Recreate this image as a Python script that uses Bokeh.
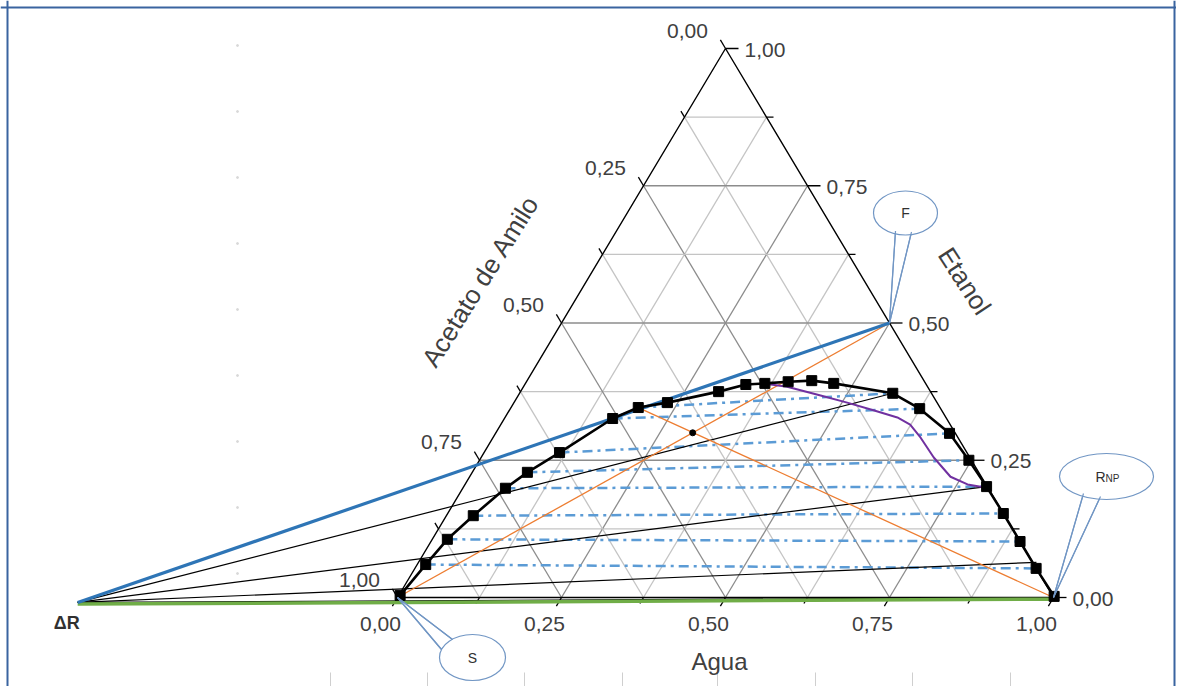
import numpy as np
from bokeh.plotting import figure
from bokeh.models import Range1d, Span
from bokeh.core.properties import value
from bokeh.embed import file_html
from bokeh.resources import INLINE

# ---------------- data (mass fractions; Acetato de Amilo = 1 - Agua - Etanol) ----------------
binodal_agua = [0.002, 0.013, 0.023, 0.041, 0.065, 0.084, 0.115, 0.165, 0.194, 0.234, 0.302, 0.337,
                0.365, 0.399, 0.434, 0.470, 0.569, 0.624, 0.692, 0.746, 0.797, 0.847, 0.898, 0.947, 1.000]
binodal_etanol = [0.004, 0.060, 0.106, 0.149, 0.199, 0.228, 0.264, 0.326, 0.346, 0.355, 0.375, 0.388,
                  0.390, 0.393, 0.395, 0.390, 0.372, 0.344, 0.299, 0.250, 0.202, 0.153, 0.102, 0.053, 0.002]

tie_ext_agua = [0.013, 0.023, 0.041, 0.065, 0.084, 0.115, 0.165, 0.194]
tie_ext_etanol = [0.060, 0.106, 0.149, 0.199, 0.228, 0.264, 0.326, 0.346]
tie_raf_agua = [0.947, 0.898, 0.847, 0.797, 0.746, 0.692, 0.624, 0.569]
tie_raf_etanol = [0.053, 0.102, 0.153, 0.202, 0.250, 0.299, 0.344, 0.372]

conj_agua = [0.363, 0.402, 0.461, 0.508, 0.555, 0.598, 0.624, 0.652, 0.690, 0.733, 0.766, 0.798]
conj_etanol = [0.390, 0.384, 0.368, 0.355, 0.341, 0.328, 0.315, 0.291, 0.255, 0.220, 0.206, 0.200]

fan_end_agua = [0.569, 0.797, 0.942]
fan_end_etanol = [0.372, 0.202, 0.064]

F_pt = (0.50, 0.50)
S_pt = (0.00, 0.00)
RNP_pt = (1.00, 0.00)
M_pt = (0.30, 0.30)
E1_pt = (0.194, 0.346)
DR_pt = (-0.483, -0.009)

tick_values = [0.0, 0.25, 0.5, 0.75, 1.0]
tick_labels = ["0,00", "0,25", "0,50", "0,75", "1,00"]

# ---------------- geometry helpers ----------------
PXX, PXY = 656.0, 549.0          # screen pixels per unit
W, H = 1176, 686
x0 = -397.0 / PXX
x1 = x0 + W / PXX
y1 = 597.0 / PXY
y0 = y1 - H / PXY


def T(a, e):
    a = np.asarray(a, dtype=float)
    e = np.asarray(e, dtype=float)
    return a + e / 2.0, e


def off(pt, dxp, dyp):
    X, Y = T(*pt)
    return float(X + dxp / PXX), float(Y - dyp / PXY)


def px(xp, yp):
    return x0 + xp / PXX, y1 - yp / PXY


FONT = value("Liberation Sans")
TXT = "#404040"

p = figure(width=W, height=H, x_range=Range1d(x0, x1), y_range=Range1d(y0, y1),
           output_backend="svg", toolbar_location=None, min_border=0,
           x_axis_location=None, y_axis_location=None)
p.grid.grid_line_color = None
p.outline_line_color = None
p.background_fill_color = "white"
p.border_fill_color = "white"

# faint page decorations
fx, _ = px(237, 0)
ys_dots = [px(0, yy)[1] for yy in range(45, 620, 66)]
p.scatter([fx] * len(ys_dots), ys_dots, size=2, color="#d8d8d8")
for xr in [330, 427, 524, 622, 717, 815, 912, 1010]:
    a = px(xr, 672)
    b = px(xr, 688)
    p.segment(a[0], a[1], b[0], b[1], line_color="#cfcfcf", line_width=1)

# ---------------- grid ----------------
for k in range(1, 8):
    v = k / 8.0
    col = "#8c8c8c" if k % 2 == 0 else "#c4c4c4"
    xs, ys = [], []
    for (pa, pb) in [((0, v), (1 - v, v)), ((v, 0), (v, 1 - v)), ((1 - v, 0), (0, 1 - v))]:
        A = T(*pa)
        B = T(*pb)
        xs.append([float(A[0]), float(B[0])])
        ys.append([float(A[1]), float(B[1])])
    p.multi_line(xs, ys, line_color=col, line_width=1.3)

# ---------------- triangle & ticks ----------------
tri = T([0, 1, 0, 0], [0, 0, 1, 0])
p.line(tri[0], tri[1], line_color="black", line_width=1.4)

ux, uy = 328 / 640.0, 549 / 640.0
for k in range(9):
    v = k / 8.0
    L = 10 if k % 2 == 0 else 7
    A = T(v, 0)
    p.segment(float(A[0]), float(A[1]), float(A[0] - ux * L / PXX), float(A[1] - uy * L / PXY),
              line_color="black", line_width=1.3)
    A = T(1 - v, v)
    Lr = 13 if k % 2 == 0 else 7
    p.segment(float(A[0]), float(A[1]), float(A[0] + Lr / PXX), float(A[1]),
              line_color="black", line_width=1.3)
    A = T(0, v)
    p.segment(float(A[0]), float(A[1]), float(A[0] - ux * L / PXX), float(A[1] + uy * L / PXY),
              line_color="black", line_width=1.3)

# tick labels
bx, by = T(tick_values, [0] * 5)
p.text(bx, by, text=tick_labels, text_font=FONT, text_font_size="21px", text_color=TXT,
       text_align="center", text_baseline="middle", x_offset=-17, y_offset=26)
rx, ry = T([1 - t for t in tick_values], tick_values)
p.text(rx, ry, text=tick_labels, text_font=FONT, text_font_size="21px", text_color=TXT,
       text_align="left", text_baseline="middle", x_offset=19, y_offset=1)
lx, ly = T([0] * 5, [1 - t for t in tick_values])
p.text(lx, ly, text=tick_labels, text_font=FONT, text_font_size="21px", text_color=TXT,
       text_align="center", text_baseline="middle", x_offset=-38, y_offset=-18)

# axis titles
ax_, ay_ = off((0, 0.5), -81, -42)
p.text([ax_], [ay_], text=["Acetato de Amilo"], angle=np.deg2rad(58), text_font=FONT,
       text_font_size="26px", text_color=TXT, text_align="center", text_baseline="middle")
ex_, ey_ = off((0.5, 0.5), 75, -42)
p.text([ex_], [ey_], text=["Etanol"], angle=np.deg2rad(-57), text_font=FONT,
       text_font_size="26px", text_color=TXT, text_align="center", text_baseline="middle")
gx_, gy_ = off((0.5, 0), -6, 64)
p.text([gx_], [gy_], text=["Agua"], text_font=FONT, text_font_size="24px", text_color=TXT,
       text_align="center", text_baseline="middle")

# ---------------- construction lines ----------------
tx0, ty0 = T(tie_ext_agua, tie_ext_etanol)
tx1, ty1 = T(tie_raf_agua, tie_raf_etanol)
p.segment(tx0, ty0, tx1, ty1, line_color="#5B9BD5", line_width=2.5, line_dash="10 5 3 5")

drx, dry = T(*DR_pt)
fx1, fy1 = T(fan_end_agua, fan_end_etanol)
p.segment([float(drx)] * 3, [float(dry)] * 3, fx1, fy1, line_color="black", line_width=1.2)

sfx, sfy = T([S_pt[0], F_pt[0]], [S_pt[1], F_pt[1]])
p.line(sfx, sfy, line_color="#ED7D31", line_width=1.3)
erx, ery = T([E1_pt[0], RNP_pt[0]], [E1_pt[1], RNP_pt[1]])
p.line(erx, ery, line_color="#ED7D31", line_width=1.3)

gx, gy = T([DR_pt[0], RNP_pt[0]], [DR_pt[1], RNP_pt[1]])
p.line(gx, gy, line_color="black", line_width=1.2)
p.line(gx, [float(v) - 0.003 for v in gy], line_color="#70AD47", line_width=3.5)

bfx, bfy = T([DR_pt[0], F_pt[0]], [DR_pt[1], F_pt[1]])
p.line(bfx, bfy, line_color="#2E75B6", line_width=3.2)

cx, cy = T(conj_agua, conj_etanol)
p.line(cx, cy, line_color="#7030A0", line_width=2)

bnx, bny = T(binodal_agua, binodal_etanol)
p.line(bnx, bny, line_color="black", line_width=2.6)
p.scatter(bnx, bny, marker="square", size=10, color="black")

mx, my = T(*M_pt)
p.scatter([float(mx)], [float(my)], size=6, color="black")

dlx, dly = off(DR_pt, -11, 21)
p.text([dlx], [dly], text=["\u0394R"], text_font=FONT, text_font_size="18px", text_color="#303030",
       text_font_style="bold", text_align="center", text_baseline="middle")

# ---------------- callouts ----------------
CAL = "#7196C4"


def callout(target, cdx, cdy, w, h, b1, b2, label, sub=None):
    tx, ty = off(target, 0, 0)
    bx1, by1 = off(target, *b1)
    bx2, by2 = off(target, *b2)
    p.patch([bx1, tx, bx2], [by1, ty, by2], fill_color="white", line_color=CAL, line_width=1.2)
    cx_, cy_ = off(target, cdx, cdy)
    p.ellipse([cx_], [cy_], width=w, height=h, width_units="screen", height_units="screen",
              fill_color="white", line_color=CAL, line_width=1.2)
    if sub is None:
        p.text([cx_], [cy_], text=[label], text_font=FONT, text_font_size="14px", text_color="#303030",
               text_align="center", text_baseline="middle")
    else:
        p.text([cx_], [cy_], text=[label], text_font=FONT, text_font_size="14px", text_color="#303030",
               text_align="right", text_baseline="middle", x_offset=-1)
        p.text([cx_], [cy_], text=[sub], text_font=FONT, text_font_size="10px", text_color="#303030",
               text_align="left", text_baseline="middle", x_offset=-1, y_offset=2)
    p.line([bx1, tx], [by1, ty], line_color=CAL, line_width=1.2)
    p.line([bx2, tx], [by2, ty], line_color=CAL, line_width=1.2)


callout(F_pt, 16, -110, 64, 44, (6, -92), (22, -91), "F")
callout(RNP_pt, 53, -121, 94, 46, (30, -104), (47, -101), "R", "NP")
callout(S_pt, 75, 60, 66, 46, (44, 52), (55, 42), "S")

# ---------------- page frame ----------------
BCOL = "#3A64A0"
fl, _ = px(7, 0)
fr, _ = px(1174, 0)
_, ft = px(0, 7)
p.add_layout(Span(location=fl, dimension="height", line_color=BCOL, line_width=2))
p.add_layout(Span(location=fr, dimension="height", line_color=BCOL, line_width=2))
p.add_layout(Span(location=ft, dimension="width", line_color=BCOL, line_width=2))

open("out.html", "w").write(file_html(p, INLINE))
